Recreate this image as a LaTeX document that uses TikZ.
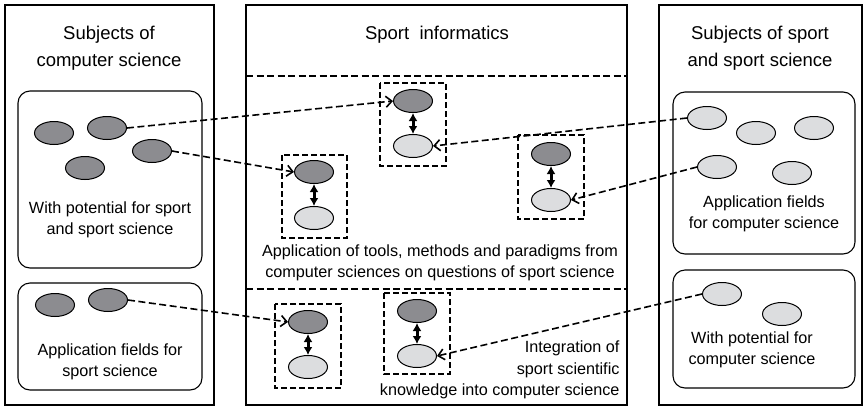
\documentclass[tikz,border=0pt]{standalone}
\usepackage{fontspec}
\setmainfont{Liberation Sans}
\usetikzlibrary{arrows.meta,shapes.geometric}
\definecolor{dkfill}{RGB}{140,140,144}
\definecolor{ltfill}{RGB}{220,221,223}
\begin{document}
\begin{tikzpicture}[x=1pt,y=-1pt,
  outer/.style={draw, line width=1.8pt},
  inner/.style={draw, line width=1.1pt, rounded corners=12pt},
  sep/.style={draw, line width=1.6pt, dash pattern=on 7pt off 3.5pt},
  pairbox/.style={draw, line width=1.6pt, dash pattern=on 6pt off 3pt},
  ell/.style={ellipse, draw, line width=1pt, minimum width=39pt, minimum height=23pt, inner sep=0pt},
  dk/.style={ell, fill=dkfill},
  lt/.style={ell, fill=ltfill},
  title/.style={align=center, font=\fontsize{18.5}{27}\selectfont},
  body/.style={align=center, font=\fontsize{16.2}{21.5}\selectfont},
  link/.style={line width=1.6pt, dash pattern=on 7pt off 3.5pt, -{Straight Barb[length=6pt,width=11pt]}},
  both/.style={line width=3pt, {Latex[length=8pt,width=9pt]}-{Latex[length=8pt,width=9pt]}}
]
\useasboundingbox (0,0) rectangle (867,408);

% ---------- left column
\draw[outer] (5,5) rectangle (214,405);
\node[title] (ltitle) at (109,48) {Subjects of\\computer science};
\draw[inner] (18,91) rectangle (202,268);
\node[dk] (l1) at (54,133) {};
\node[dk] (l2) at (107,128) {};
\node[dk] (l3) at (152,151) {};
\node[dk] (l4) at (85,168) {};
\node[body] (ltext1) at (110,220) {With potential for sport\\and sport science};
\draw[inner] (18,283) rectangle (202,390);
\node[dk] (l5) at (55,305) {};
\node[dk] (l6) at (108,300) {};
\node[body] (ltext2) at (110,362) {Application fields for\\sport science};

% ---------- middle column
\draw[outer] (246,5) rectangle (627,405);
\node[title] (mtitle) at (437,35) {Sport\ \ informatics};
\draw[sep] (246,76) -- (627,76);
\draw[sep] (246,289) -- (627,289);

\draw[pairbox] (380,83) rectangle (446,166);
\node[dk] (dT) at (413,101) {};
\node[lt] (lT) at (413,146) {};
\draw[pairbox] (282,155) rectangle (347,238);
\node[dk] (dL) at (314,172) {};
\node[lt] (lL) at (314,218) {};
\draw[pairbox] (518,135) rectangle (584,219);
\node[dk] (dR) at (551,154) {};
\node[lt] (lR) at (551,200) {};
\draw[pairbox] (275,304) rectangle (341,388);
\node[dk] (dBL) at (308,322) {};
\node[lt] (lBL) at (308,367) {};
\draw[pairbox] (384,293) rectangle (450,374);
\node[dk] (dBR) at (417,311) {};
\node[lt] (lBR) at (417,356) {};

\node[body] (mtext1) at (440,263) {Application of tools, methods and paradigms from\\computer sciences on questions of sport science};
\node[body, align=right, anchor=east] (mtext2) at (623,370) {Integration of\\sport scientific\\knowledge into computer science};

% ---------- right column
\draw[outer] (659,5) rectangle (862,405);
\node[title] (rtitle) at (760,48) {Subjects of sport\\and sport science};
\draw[inner] (673,92) rectangle (855,254);
\node[lt] (r1) at (707,118) {};
\node[lt] (r2) at (756,133) {};
\node[lt] (r3) at (814,128) {};
\node[lt] (r4) at (717,167) {};
\node[lt] (r5) at (792,173) {};
\node[body] (rtext1) at (764,214) {Application fields\\for computer science};
\draw[inner] (673,270) rectangle (855,388);
\node[lt] (r6) at (722,294) {};
\node[lt] (r7) at (782,314) {};
\node[body] (rtext2) at (752,350) {With potential for\\computer science};

% ---------- connectors
\draw[both] (dT) -- (lT);
\draw[both] (dL) -- (lL);
\draw[both] (dR) -- (lR);
\draw[both] (dBL) -- (lBL);
\draw[both] (dBR) -- (lBR);

\draw[link] (l2.east) -- (dT.west);
\draw[link] (l3.east) -- (dL.west);
\draw[link] (r1.west) -- (lT.east);
\draw[link] (r4.west) -- (lR.east);
\draw[link] (l6.east) -- (dBL.west);
\draw[link] (r6.west) -- (lBR.east);
\end{tikzpicture}
\end{document}
